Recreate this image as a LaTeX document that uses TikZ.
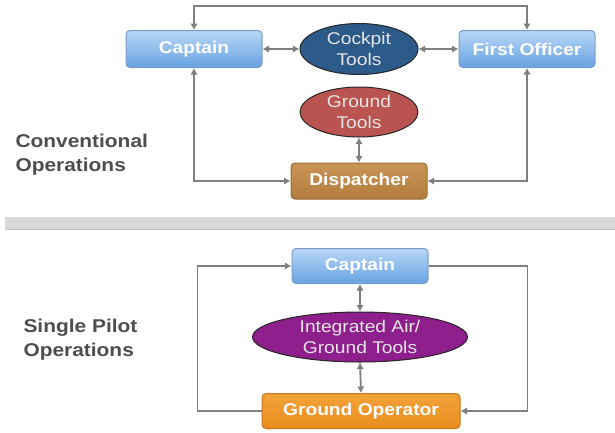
\documentclass[tikz,border=0pt]{standalone}
\usepackage{fontspec}
\setmainfont{Liberation Sans}[FakeStretch=1.13]
\usetikzlibrary{arrows.meta,shapes.geometric,calc}
\definecolor{arrgray}{HTML}{7F7F7F}
\definecolor{blueTop}{HTML}{B8D7F6}
\definecolor{blueBot}{HTML}{67A2E2}
\definecolor{blueEdge}{HTML}{7C9CC6}
\definecolor{cockpitFill}{HTML}{2C5B8A}
\definecolor{groundFill}{HTML}{BA5450}
\definecolor{dispTop}{HTML}{C99455}
\definecolor{dispBot}{HTML}{B37D40}
\definecolor{dispEdge}{HTML}{9A6A35}
\definecolor{gopTop}{HTML}{F3A23A}
\definecolor{gopBot}{HTML}{E98D1D}
\definecolor{gopEdge}{HTML}{C7781A}
\definecolor{integFill}{HTML}{8E1F8C}
\definecolor{sideText}{HTML}{4D4D4D}
\definecolor{ellText}{HTML}{E6E6E6}
\begin{document}
\begin{tikzpicture}[x=1pt,y=-1pt,
  boxbase/.style={rectangle,rounded corners=4pt,line width=1pt,inner sep=0pt,
    font=\fontsize{17}{19}\selectfont\bfseries,text=white,shading=axis,shading angle=0},
  bluebox/.style={boxbase,top color=blueTop,bottom color=blueBot,draw=blueEdge},
  dispbox/.style={boxbase,top color=dispTop,bottom color=dispBot,draw=dispEdge},
  gopbox/.style={boxbase,top color=gopTop,bottom color=gopBot,draw=gopEdge},
  tool/.style={ellipse,draw=black!85,line width=1pt,inner sep=0pt,text=ellText,
    align=center,font=\fontsize{17}{21.5}\selectfont},
  sidelabel/.style={anchor=west,align=left,text=sideText,
    font=\fontsize{18.5}{24}\selectfont\bfseries},
  arr/.style={draw=arrgray,line width=1.8pt,
    {Latex[length=6.5pt,width=7.5pt]}-{Latex[length=6.5pt,width=7.5pt]}},
  arrone/.style={draw=arrgray,line width=1.8pt,-{Latex[length=6.5pt,width=7.5pt]}}
]
\useasboundingbox (0,0) rectangle (615,432);

% ---------- Conventional operations ----------
\node[bluebox,minimum width=136pt,minimum height=37pt] (capA) at (194,49) {Captain};
\node[tool,minimum width=118pt,minimum height=51pt,fill=cockpitFill] (cockpit) at (359,49) {Cockpit\\Tools};
\node[bluebox,minimum width=136pt,minimum height=37pt] (fo) at (527,49) {First Officer};
\node[tool,minimum width=118pt,minimum height=50pt,fill=groundFill] (ground) at (359,112) {Ground\\Tools};
\node[dispbox,minimum width=136pt,minimum height=36pt] (disp) at (359,181) {Dispatcher};

\node[sidelabel] (conv) at (12,155) {Conventional\\Operations};

\draw[arr] (capA.north) -- ++(0,-24) -| (fo.north);
\draw[arr] (capA.east) -- (cockpit.west);
\draw[arr] (cockpit.east) -- (fo.west);
\draw[arr] (ground.south) -- (disp.north);
\draw[arr] (capA.south) |- (disp.west);
\draw[arr] (fo.south) |- (disp.east);

% ---------- separator ----------
\fill[gray!30] (5,217) rectangle (615,229);
\draw[gray!50,line width=0.6pt] (5,229) -- (615,229);

% ---------- Single pilot operations ----------
\node[bluebox,minimum width=136pt,minimum height=35pt] (capB) at (360,266) {Captain};
\node[tool,minimum width=215pt,minimum height=50pt,fill=integFill] (integ) at (360,337) {Integrated Air/\\Ground Tools};
\node[gopbox,minimum width=198pt,minimum height=35pt] (gop) at (361,411) {Ground Operator};

\node[sidelabel] (spo) at (20,340) {Single Pilot\\Operations};

\draw[arr] (capB.south) -- (integ.north);
\draw[arr] (integ.south) -- (gop.north);
\draw[arrone] (gop.west) -- ++(-64,0) |- (capB.west);
\draw[arrone] (capB.east) -- ++(99,0) |- (gop.east);
\end{tikzpicture}
\end{document}
